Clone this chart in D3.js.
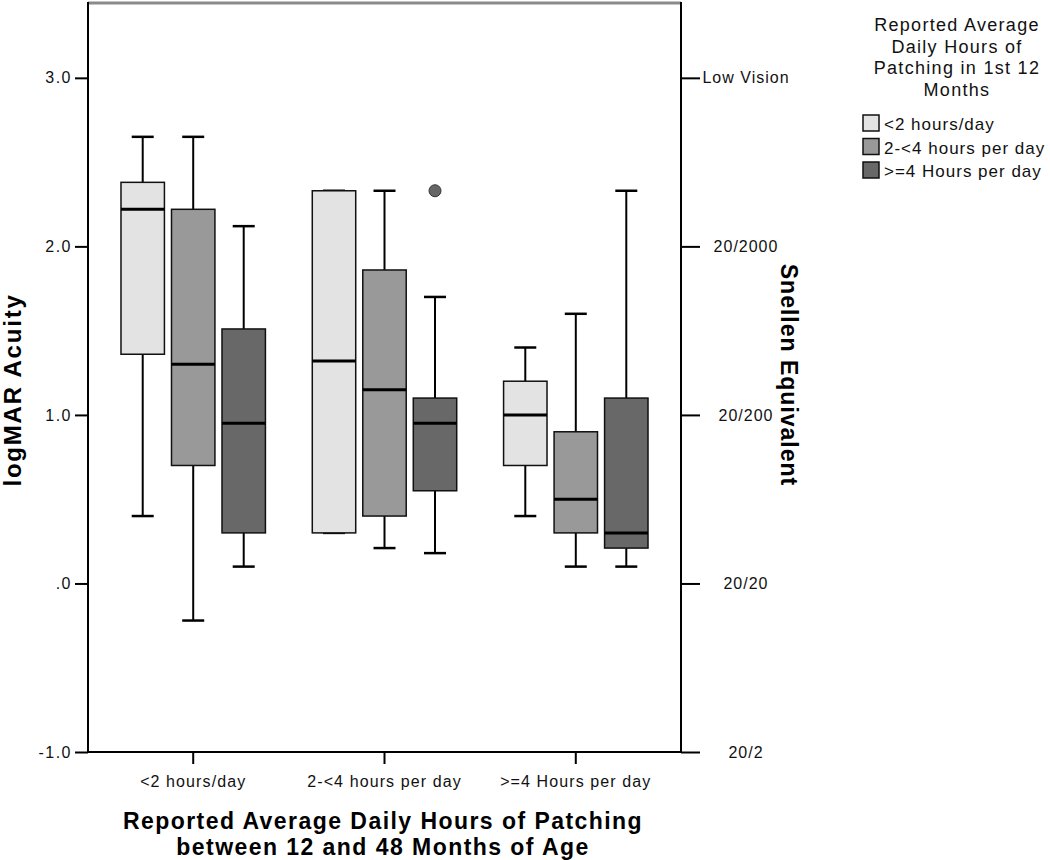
<!DOCTYPE html>
<html>
<head>
<meta charset="utf-8">
<script src="https://cdn.jsdelivr.net/npm/d3@7"></script>
<style>
  body { margin: 0; background: #fff; }
  svg { display: block; font-family: "Liberation Sans", Arial, sans-serif; }
</style>
</head>
<body>
<svg id="chart" width="1050" height="860"></svg>
<script>
// ---- data ----
const groups = ["<2 hours/day", "2-<4 hours per day", ">=4 Hours per day"];
const series = ["<2 hours/day", "2-<4 hours per day", ">=4 Hours per day"];
const seriesColors = ["#e3e3e3", "#999999", "#686868"];
// per series: values for each x group
const whiskerLow = [[0.40, 0.30, 0.40], [-0.22, 0.21, 0.10], [0.10, 0.18, 0.10]];
const q1         = [[1.36, 0.30, 0.70], [0.70, 0.40, 0.30], [0.30, 0.55, 0.21]];
const median     = [[2.22, 1.32, 1.00], [1.30, 1.15, 0.50], [0.95, 0.95, 0.30]];
const q3         = [[2.38, 2.33, 1.20], [2.22, 1.86, 0.90], [1.51, 1.10, 1.10]];
const whiskerHigh= [[2.65, 2.33, 1.40], [2.65, 2.33, 1.60], [2.12, 1.70, 2.33]];
const outliers = [{ group: 1, series: 2, value: 2.33 }];
const leftTicks = [3, 2, 1, 0, -1];
const leftTickLabels = ["3.0", "2.0", "1.0", ".0", "-1.0"];
const rightTickLabels = ["Low Vision", "20/2000", "20/200", "20/20", "20/2"];
const legendTitle = ["Reported Average", "Daily Hours of", "Patching in 1st 12", "Months"];
const xTitle = ["Reported Average Daily Hours of Patching", "between 12 and 48 Months of Age"];

// ---- layout ----
const svg = d3.select("#chart");
const L = 88, R = 681, T = 2, B = 752;

const y = d3.scaleLinear().domain([-1, 3.45]).range([B, T]);
const x = d3.scaleBand().domain(groups).range([L, R]).paddingOuter(0.05).paddingInner(0);
const xs = d3.scaleBand().domain(series).range([-75.75, 75.75]).paddingInner(0.14).paddingOuter(0.07);

// top frame line
svg.append("line").attr("x1", L).attr("x2", R).attr("y1", T + 1).attr("y2", T + 1)
  .attr("stroke", "#8a8a8a").attr("stroke-width", 3);

// boxes
const boxes = [];
series.forEach((s, si) => groups.forEach((g, gi) => {
  boxes.push({ s, si, g, gi,
    lo: whiskerLow[si][gi], q1: q1[si][gi], med: median[si][gi],
    q3: q3[si][gi], hi: whiskerHigh[si][gi] });
}));

const bw = xs.bandwidth();
const cap = 22;
const bg = svg.append("g");
boxes.forEach(d => {
  const cx = x(d.g) + x.bandwidth() / 2 + xs(d.s) + bw / 2;
  const g = bg.append("g");
  g.append("line").attr("x1", cx).attr("x2", cx).attr("y1", y(d.q3)).attr("y2", y(d.hi))
    .attr("stroke", "#000").attr("stroke-width", 2);
  g.append("line").attr("x1", cx).attr("x2", cx).attr("y1", y(d.q1)).attr("y2", y(d.lo))
    .attr("stroke", "#000").attr("stroke-width", 2);
  g.append("line").attr("x1", cx - cap / 2).attr("x2", cx + cap / 2).attr("y1", y(d.hi)).attr("y2", y(d.hi))
    .attr("stroke", "#000").attr("stroke-width", 2.5);
  g.append("line").attr("x1", cx - cap / 2).attr("x2", cx + cap / 2).attr("y1", y(d.lo)).attr("y2", y(d.lo))
    .attr("stroke", "#000").attr("stroke-width", 2.5);
  g.append("rect").attr("x", cx - bw / 2).attr("width", bw)
    .attr("y", y(d.q3)).attr("height", y(d.q1) - y(d.q3))
    .attr("fill", seriesColors[d.si]).attr("stroke", "#111").attr("stroke-width", 1.5);
  g.append("line").attr("x1", cx - bw / 2).attr("x2", cx + bw / 2).attr("y1", y(d.med)).attr("y2", y(d.med))
    .attr("stroke", "#000").attr("stroke-width", 3);
});

// outliers
outliers.forEach(o => {
  const cx = x(groups[o.group]) + x.bandwidth() / 2 + xs(series[o.series]) + bw / 2;
  svg.append("circle").attr("cx", cx).attr("cy", y(o.value)).attr("r", 6)
    .attr("fill", "#666").attr("stroke", "#333").attr("stroke-width", 1);
});

// left axis
const yl = svg.append("g").attr("transform", `translate(${L},0)`)
  .call(d3.axisLeft(y).tickValues(leftTicks).tickSize(13).tickPadding(3)
    .tickFormat((d, i) => leftTickLabels[i]));
yl.select(".domain").attr("d", `M0,${T}V${B}`).attr("stroke", "#000").attr("stroke-width", 2);
yl.selectAll(".tick line").attr("stroke", "#000").attr("stroke-width", 2);
yl.selectAll(".tick text").attr("font-size", 16).attr("fill", "#111").attr("letter-spacing", 1.5)
  .attr("font-family", "Liberation Sans, Arial, sans-serif");

// right axis
const yr = svg.append("g").attr("transform", `translate(${R},0)`)
  .call(d3.axisRight(y).tickValues(leftTicks).tickSize(19).tickPadding(5)
    .tickFormat((d, i) => rightTickLabels[i]));
yr.select(".domain").attr("d", `M0,${T}V${B}`).attr("stroke", "#000").attr("stroke-width", 2);
yr.selectAll(".tick line").attr("stroke", "#000").attr("stroke-width", 2);
yr.selectAll(".tick text").attr("font-size", 16).attr("fill", "#111").attr("letter-spacing", 1)
  .attr("text-anchor", "middle").attr("x", 65)
  .attr("font-family", "Liberation Sans, Arial, sans-serif");

// bottom axis
const xb = svg.append("g").attr("transform", `translate(0,${B})`)
  .call(d3.axisBottom(x).tickSize(12).tickPadding(12));
xb.select(".domain").attr("d", `M${L},0H${R}`).attr("stroke", "#000").attr("stroke-width", 2);
xb.selectAll(".tick line").attr("stroke", "#000").attr("stroke-width", 2);
xb.selectAll(".tick text").attr("font-size", 16).attr("fill", "#111").attr("letter-spacing", 1.1)
  .attr("font-family", "Liberation Sans, Arial, sans-serif");

// axis titles
svg.append("text").attr("transform", "translate(21,390) rotate(-90)")
  .attr("text-anchor", "middle").attr("font-size", 24).attr("font-weight", "bold")
  .attr("letter-spacing", 1.8).attr("fill", "#000").text("logMAR Acuity");
svg.append("text").attr("transform", "translate(781,375) rotate(90)")
  .attr("text-anchor", "middle").attr("font-size", 23).attr("font-weight", "bold")
  .attr("letter-spacing", 1).attr("fill", "#000").text("Snellen Equivalent");
xTitle.forEach((t, i) => {
  svg.append("text").attr("x", 383).attr("y", 829 + i * 26)
    .attr("text-anchor", "middle").attr("font-size", 23).attr("font-weight", "bold")
    .attr("letter-spacing", 1.45).attr("fill", "#000").text(t);
});

// legend
const lg = svg.append("g");
legendTitle.forEach((t, i) => {
  lg.append("text").attr("x", 957).attr("y", 31 + i * 21.5)
    .attr("text-anchor", "middle").attr("font-size", 18).attr("letter-spacing", 1.3)
    .attr("fill", "#111").text(t);
});
series.forEach((s, i) => {
  lg.append("rect").attr("x", 863).attr("y", 115 + i * 23.5).attr("width", 16).attr("height", 16)
    .attr("fill", seriesColors[i]).attr("stroke", "#111").attr("stroke-width", 1.5);
  lg.append("text").attr("x", 884).attr("y", 130 + i * 23.5)
    .attr("font-size", 17).attr("letter-spacing", 1).attr("fill", "#111").text(s);
});
</script>
</body>
</html>
